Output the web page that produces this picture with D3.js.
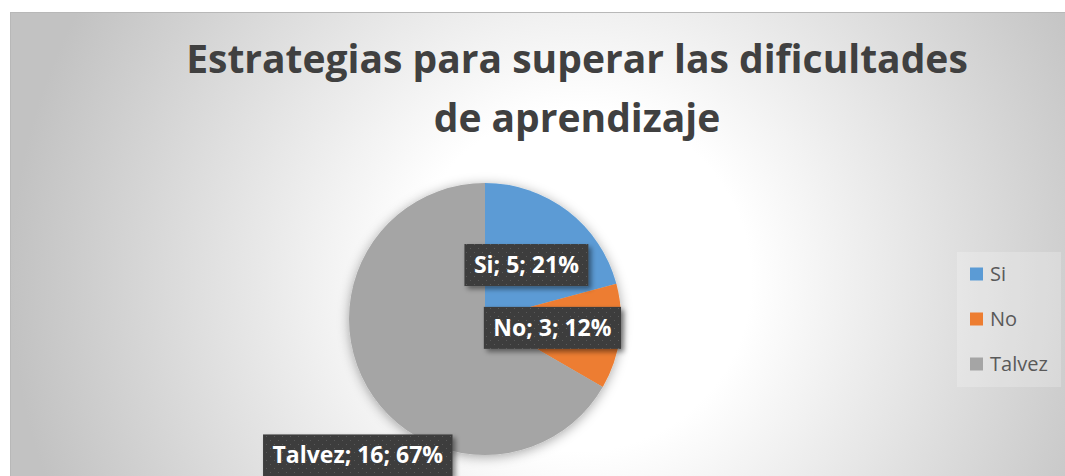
<!DOCTYPE html>
<meta charset="utf-8">
<style>
body { margin: 0; background: #fff; }
text { font-family: "Open Sans", sans-serif; }
</style>
<svg width="1065" height="476"></svg>
<script src="https://cdn.jsdelivr.net/npm/d3@7/dist/d3.min.js"></script>
<script>

var categories = ["Si", "No", "Talvez"];
var values = [5, 3, 16];
var percents = [21, 12, 67];
var colors = ["#5b9bd5", "#ed7d31", "#a5a5a5"];
var titleLines = ["Estrategias para superar las dificultades", "de aprendizaje"];

var svg = d3.select("svg"),
    width = +svg.attr("width"),
    height = +svg.attr("height");

var defs = svg.append("defs");

// background gradient, white in the middle
var bg = defs.append("radialGradient")
    .attr("id", "bg")
    .attr("gradientUnits", "userSpaceOnUse")
    .attr("cx", 580).attr("cy", 280).attr("r", 570);
bg.append("stop").attr("offset", 0).attr("stop-color", "#ffffff");
bg.append("stop").attr("offset", 0.3).attr("stop-color", "#ffffff");
bg.append("stop").attr("offset", 1).attr("stop-color", "#c2c2c2");

var pat = defs.append("pattern")
    .attr("id", "dots")
    .attr("patternUnits", "userSpaceOnUse")
    .attr("width", 8).attr("height", 8);
pat.append("rect").attr("width", 8).attr("height", 8).attr("fill", "#3d3d3d");
pat.append("rect").attr("x", 1).attr("y", 1).attr("width", 1).attr("height", 1).attr("fill", "#5a5a5a");
pat.append("rect").attr("x", 5).attr("y", 5).attr("width", 1).attr("height", 1).attr("fill", "#5a5a5a");

defs.append("filter").attr("id", "pieShadow")
    .attr("x", "-20%").attr("y", "-20%").attr("width", "140%").attr("height", "140%")
  .append("feDropShadow")
    .attr("dx", 0).attr("dy", 2).attr("stdDeviation", 6)
    .attr("flood-color", "#000").attr("flood-opacity", 0.35);

defs.append("filter").attr("id", "boxShadow")
    .attr("x", "-20%").attr("y", "-30%").attr("width", "140%").attr("height", "170%")
  .append("feDropShadow")
    .attr("dx", 3).attr("dy", 3).attr("stdDeviation", 2.5)
    .attr("flood-color", "#000").attr("flood-opacity", 0.45);

svg.append("rect")
    .attr("x", 10.5).attr("y", 12.5)
    .attr("width", width + 20).attr("height", height + 40)
    .attr("fill", "url(#bg)")
    .attr("stroke", "#b8b8b8");

// title
svg.append("g").selectAll("text")
    .data(titleLines)
  .enter().append("text")
    .attr("x", 577)
    .attr("y", function(d, i) { return 73 + i * 59; })
    .attr("text-anchor", "middle")
    .attr("font-size", 39)
    .attr("font-weight", "bold")
    .attr("fill", "#404040")
    .text(function(d) { return d; });

// pie
var radius = 136,
    cx = 485, cy = 319;

var pie = d3.pie().sort(null).value(function(d) { return d; });
var arcs = pie(values);
var total = d3.sum(values);

var arc = d3.arc().innerRadius(0).outerRadius(radius);
var innerLabel = d3.arc().innerRadius(radius * 0.5).outerRadius(radius * 0.5);
var outerLabel = d3.arc().innerRadius(radius * 1.08).outerRadius(radius * 1.08);

var g = svg.append("g").attr("transform", "translate(" + cx + "," + cy + ")");

g.append("g").attr("filter", "url(#pieShadow)")
  .selectAll("path")
    .data(arcs)
  .enter().append("path")
    .attr("d", arc)
    .attr("fill", function(d, i) { return colors[i]; });

var labels = g.selectAll(".lbl")
    .data(arcs)
  .enter().append("g")
    .attr("class", "lbl");

labels.each(function(d, i) {
  var sel = d3.select(this);
  var big = d.value / total > 0.5;
  var p = big ? outerLabel.centroid(d) : innerLabel.centroid(d);
  if (big) p[1] += 63;
  var t = sel.append("text")
      .attr("font-size", 23)
      .attr("font-weight", "bold")
      .attr("fill", "#fff")
      .attr("text-anchor", "middle")
      .attr("x", p[0])
      .attr("y", p[1] + 8)
      .text(categories[i] + "; " + d.value + "; " + percents[i] + "%");
  var w = t.node().getComputedTextLength() + 19;
  sel.insert("rect", "text")
      .attr("x", p[0] - w / 2)
      .attr("y", p[1] - 21)
      .attr("width", w)
      .attr("height", 42)
      .attr("fill", "url(#dots)")
      .attr("filter", "url(#boxShadow)");
});

// legend
var legend = svg.append("g").attr("transform", "translate(957,252)");
legend.append("rect")
    .attr("width", 104).attr("height", 135)
    .attr("fill", "#fff").attr("fill-opacity", 0.22);

var item = legend.selectAll(".item")
    .data(categories)
  .enter().append("g")
    .attr("class", "item")
    .attr("transform", function(d, i) { return "translate(13," + (22 + i * 45) + ")"; });

item.append("rect")
    .attr("y", -6.5)
    .attr("width", 13).attr("height", 13)
    .attr("fill", function(d, i) { return colors[i]; });

item.append("text")
    .attr("x", 20)
    .attr("y", 7)
    .attr("font-size", 20)
    .attr("fill", "#595959")
    .text(function(d) { return d; });

</script>
